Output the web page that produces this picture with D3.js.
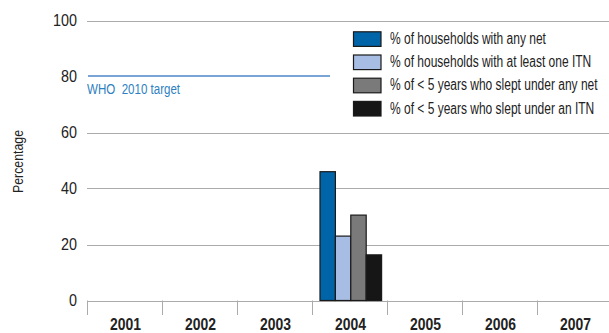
<!DOCTYPE html>
<html>
<head>
<meta charset="utf-8">
<script src="https://cdn.jsdelivr.net/npm/d3@7/dist/d3.min.js"></script>
<style>
  html, body { margin: 0; padding: 0; background: #fff; }
  svg { display: block; }
  text { font-family: "Liberation Sans", Arial, sans-serif; }
</style>
</head>
<body>
<svg id="chart" width="609" height="333"></svg>
<script>
const years = ["2001", "2002", "2003", "2004", "2005", "2006", "2007"];
const seriesNames = [
  "% of households with any net",
  "% of households with at least one ITN",
  "% of < 5 years who slept under any net",
  "% of < 5 years who slept under an ITN"
];
const seriesColors = ["#0064a8", "#a8bde3", "#7a7a7a", "#161616"];
// values per series for each year (null = no data)
const anyNet      = [null, null, null, 46, null, null, null];
const atLeastITN  = [null, null, null, 23, null, null, null];
const under5Any   = [null, null, null, 30.5, null, null, null];
const under5ITN   = [null, null, null, 16.3, null, null, null];
const seriesValues = [anyNet, atLeastITN, under5Any, under5ITN];
const yTicks = [0, 20, 40, 60, 80, 100];
const targetValue = 80;
const targetLabel = "WHO\u00a0\u00a02010 target";

const svg = d3.select("#chart");
const x0 = 87, x1 = 612, yBottom = 300.5, yTop = 20.5;

const x = d3.scaleBand().domain(years).range([x0, x1]);
const y = d3.scaleLinear().domain([0, 100]).range([yBottom, yTop]);

// gridlines (80 is hidden behind target line / legend)
svg.append("g").selectAll("line").data(yTicks.filter(t => t !== targetValue)).join("line")
  .attr("x1", x0).attr("x2", 609)
  .attr("y1", d => Math.round(y(d)) + 0.5).attr("y2", d => Math.round(y(d)) + 0.5)
  .attr("stroke", "#ababab").attr("stroke-width", 1);

// y tick labels (condensed via horizontal scale)
svg.append("g").selectAll("g").data(yTicks).join("g")
  .attr("transform", d => `translate(77,${y(d)}) scale(0.88,1)`)
  .append("text")
  .attr("dy", "0.36em").attr("text-anchor", "end")
  .attr("font-size", 16.3).attr("fill", "#222")
  .text(d => d);

// x dividers
svg.append("g").selectAll("line").data(years).join("line")
  .attr("x1", d => Math.round(x(d)) + 0.5).attr("x2", d => Math.round(x(d)) + 0.5)
  .attr("y1", yBottom).attr("y2", 315)
  .attr("stroke", "#ababab").attr("stroke-width", 1);

// x labels
svg.append("g").selectAll("g").data(years).join("g")
  .attr("transform", d => `translate(${x(d) + x.bandwidth() / 2 + 1},330) scale(0.855,1)`)
  .append("text")
  .attr("text-anchor", "middle").attr("font-size", 16.3).attr("font-weight", "bold")
  .attr("fill", "#222").text(d => d);

// bars
const barData = [];
years.forEach((yr, i) => {
  seriesValues.forEach((vals, s) => {
    if (vals[i] != null) barData.push({ yr, s, v: vals[i] });
  });
});
const xs = d3.scaleBand().domain(d3.range(seriesNames.length)).range([8, 8 + 4 * 15.4]);
svg.append("g").selectAll("rect").data(barData).join("rect")
  .attr("x", d => x(d.yr) + xs(d.s))
  .attr("y", d => y(d.v))
  .attr("width", xs.bandwidth())
  .attr("height", d => y(0) - y(d.v))
  .attr("fill", d => seriesColors[d.s])
  .attr("stroke", "#1a1a1a").attr("stroke-width", 1.2);

// target line
svg.append("line")
  .attr("x1", x0 + 1).attr("x2", 330)
  .attr("y1", y(targetValue) - 0.5).attr("y2", y(targetValue) - 0.5)
  .attr("stroke", "#7ba4d6").attr("stroke-width", 2.2);
svg.append("g").attr("transform", "translate(87,93.5) scale(0.755,1)")
  .append("text")
  .attr("font-size", 15.3).attr("fill", "#2f7fc1")
  .text(targetLabel);

// legend
const lg = svg.append("g");
const rowY = d3.scalePoint().domain(d3.range(seriesNames.length)).range([44, 44 + 3 * 23.2]);
seriesNames.forEach((name, i) => {
  lg.append("rect").attr("x", 353.5).attr("y", rowY(i) - 12.2).attr("width", 27.5).attr("height", 14.6)
    .attr("fill", seriesColors[i]).attr("stroke", "#1a1a1a").attr("stroke-width", 1.2);
  lg.append("g").attr("transform", `translate(390,${rowY(i)}) scale(0.75,1)`)
    .append("text")
    .attr("font-size", 16).attr("fill", "#222").text(name);
});

// y axis title
svg.append("g").attr("transform", "translate(23,161.5) rotate(-90) scale(0.88,1)")
  .append("text")
  .attr("text-anchor", "middle").attr("font-size", 14).attr("fill", "#222")
  .text("Percentage");
</script>
</body>
</html>
